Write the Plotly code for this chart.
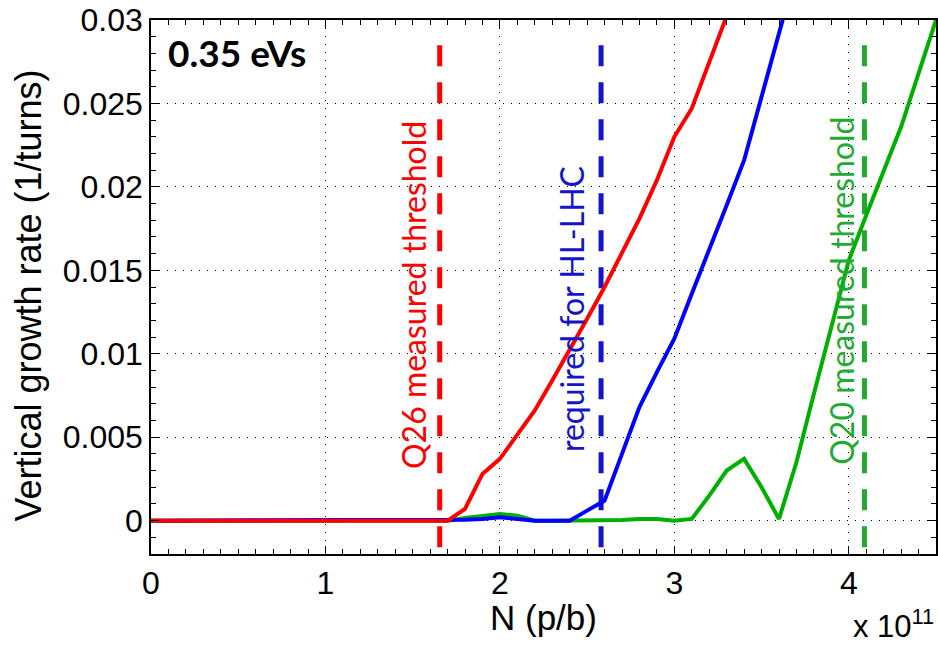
import plotly.graph_objects as go

# N in units of 1e11 p/b
n_values = [round(0.1 * i, 1) for i in range(0, 46)]

red_rate = [0, 0, 0, 0, 0, 0, 0, 0, 0, 0,
            0, 0, 0, 0, 0, 0, 0, 0,
            0.0007, 0.0028, 0.0037, 0.0051, 0.0066, 0.0084, 0.0102,
            0.0121, 0.0140, 0.0160, 0.0181, 0.0204, 0.0230, 0.0247,
            0.0274, 0.0301, 0.0330]
blue_rate = [0, 0, 0, 0, 0, 0, 0, 0, 0, 0,
             0, 0, 0, 0, 0, 0, 0, 0,
             0.00005, 0.0001, 0.0002, 0.0001, 0, 0, 0,
             0.0006, 0.0012, 0.0040, 0.0068, 0.0089, 0.0109, 0.0136,
             0.0162, 0.0189, 0.0216, 0.0254, 0.0292, 0.0330]
green_rate = [0, 0, 0, 0, 0, 0, 0, 0, 0, 0,
              0, 0, 0, 0, 0, 0, 0, 0,
              0.00016, 0.00026, 0.0004, 0.0003, 0, 0, 0,
              0, 0, 0.00003, 0.0001, 0.0001, 0, 0.0001,
              0.0015, 0.0030, 0.0037, 0.0020, 0.0001, 0.0035, 0.0076,
              0.0117, 0.0156, 0.0183, 0.0209, 0.0236, 0.0268, 0.0300]

threshold_names = ["Q26 measured threshold", "required for HL-LHC", "Q20 measured threshold"]
threshold_n = [1.655, 2.58, 4.09]
threshold_span = [-0.0016, 0.0289]

x_ticks = [0, 1, 2, 3, 4]
y_ticks = [0, 0.005, 0.01, 0.015, 0.02, 0.025, 0.03]
y_tick_text = ["0", "0.005", "0.01", "0.015", "0.02", "0.025", "0.03"]

dash_colors = ["#ff0000", "#1414c8", "#22aa33"]
text_x = [1.506, 2.41, 3.958]
text_y = [0.0135, 0.0127, 0.0138]

fig = go.Figure()

for n, c in zip(threshold_n, dash_colors):
    fig.add_trace(go.Scatter(x=[n, n], y=threshold_span, mode="lines",
                             line=dict(color=c, width=5, dash="21px,16px"),
                             showlegend=False, hoverinfo="skip"))

fig.add_trace(go.Scatter(x=n_values[:len(green_rate)], y=green_rate, mode="lines",
                         line=dict(color="#00b000", width=4), showlegend=False))
fig.add_trace(go.Scatter(x=n_values[:len(blue_rate)], y=blue_rate, mode="lines",
                         line=dict(color="#0000ff", width=4), showlegend=False))
fig.add_trace(go.Scatter(x=n_values[:len(red_rate)], y=red_rate, mode="lines",
                         line=dict(color="#ff0000", width=4), showlegend=False))

for name, tx, ty, c in zip(threshold_names, text_x, text_y, dash_colors):
    fig.add_annotation(x=tx, y=ty, xref="x", yref="y", text=name, showarrow=False,
                       textangle=-90, xanchor="center", yanchor="middle",
                       font=dict(family="Lato", size=32, color=c))

fig.add_annotation(x=0.019, y=0.939, xref="paper", yref="paper", text="<b>0.35 eVs</b>",
                   showarrow=False, xanchor="left", yanchor="middle",
                   font=dict(family="Lato", size=37, color="black"))

fig.add_annotation(x=0.5, y=-0.079, xref="paper", yref="paper", text="N (p/b)",
                   showarrow=False, xanchor="center", yanchor="top",
                   font=dict(family="Liberation Sans", size=35, color="black"))
fig.add_annotation(x=-0.156, y=0.483, xref="paper", yref="paper",
                   text="Vertical growth rate (1/turns)", showarrow=False,
                   textangle=-90, xanchor="center", yanchor="middle",
                   font=dict(family="Liberation Sans", size=36, color="black"))
fig.add_annotation(x=1.0, y=-0.172, xref="paper", yref="paper",
                   text="x 10<sup>11</sup>", showarrow=False,
                   xanchor="right", yanchor="bottom",
                   font=dict(family="Liberation Sans", size=31, color="black"))

axis_common = dict(showline=True, linecolor="black", linewidth=1.5, mirror="allticks",
                   ticks="inside", ticklen=8, tickcolor="black", tickwidth=1,
                   showgrid=True, gridcolor="black", gridwidth=1, griddash="1px,7px",
                   zeroline=False,
                   tickfont=dict(family="Liberation Sans", size=32, color="black"))

fig.update_xaxes(range=[0, 4.5], tickvals=x_ticks,
                 minor=dict(dtick=0.1, ticks="inside", ticklen=5, tickcolor="black",
                            showgrid=False),
                 **axis_common)
fig.update_yaxes(range=[-0.002, 0.03], tickvals=y_ticks, ticktext=y_tick_text,
                 minor=dict(dtick=0.001, ticks="inside", ticklen=5, tickcolor="black",
                            showgrid=False),
                 **axis_common)

fig.update_layout(width=938, height=645, plot_bgcolor="white", paper_bgcolor="white",
                  margin=dict(l=151, r=0, t=20, b=91), showlegend=False)

fig.write_html("out.html")
